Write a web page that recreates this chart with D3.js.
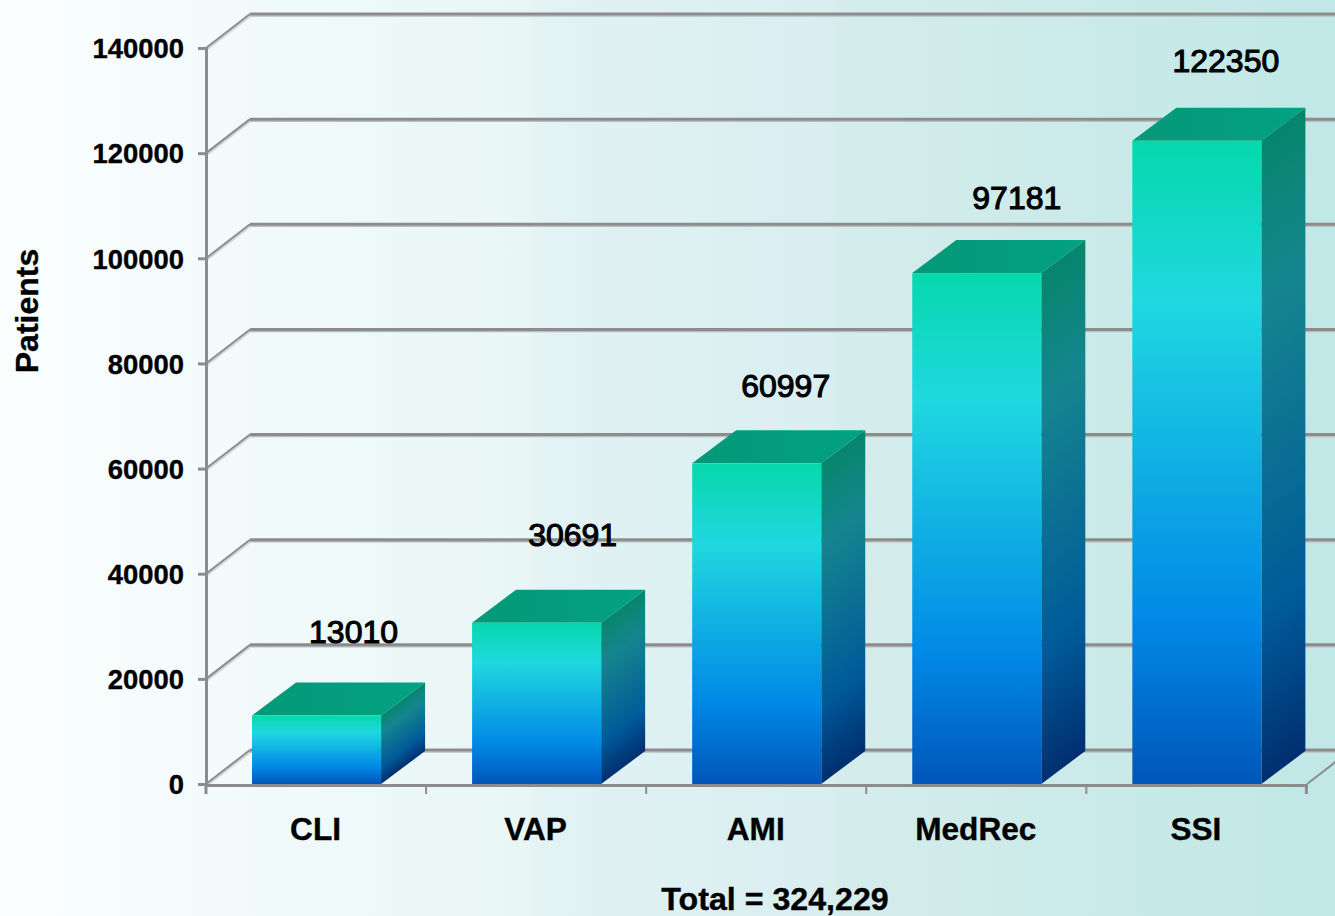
<!DOCTYPE html>
<html><head><meta charset="utf-8">
<script src="https://cdn.jsdelivr.net/npm/d3@7/dist/d3.min.js"></script>
<style>html,body{margin:0;padding:0;background:#fff}svg{display:block}text{font-family:"Liberation Sans",Arial,sans-serif;font-weight:bold;fill:#000;stroke:#000;stroke-width:0.35px}</style>
</head><body><svg id="c" width="1335" height="916"></svg>
<script>
const categories = ["CLI","VAP","AMI","MedRec","SSI"];
const patients = [13010,30691,60997,97181,122350];
const yTicks = [0,20000,40000,60000,80000,100000,120000,140000];
const yTitle = "Patients";
const footer = "Total = 324,229";
const bgStops = [[0,"#fbfefe"],[0.2,"#f1fafb"],[0.395,"#e8f6f5"],[0.4,"#e6f3f2"],[0.41,"#e2f2f5"],[0.62,"#d8eef0"],[0.63,"#d5ecec"],[1,"#c0e8e6"]];
const frontStops = [[0,"#06d8ac"],[0.25,"#20d8e0"],[0.75,"#0088e6"],[1,"#0056b8"]];
const sideStops = [[0,"#06866c"],[0.25,"#15858f"],[0.75,"#005a98"],[1,"#002f70"]];
const topStops = [[0,"#049878"],[1,"#02a282"]];
const labelNudge = [[37,-84],[36,-88],[29,-78],[40,-76],[29,-80]];

const W=1335,H=916,wallX=44,wallY=34,barX=44,barY=33,GRID="#8c8c8c";
const svg=d3.select("#c"),defs=svg.append("defs");
function grad(id,stops,x1,y1,x2,y2,units){
  const g=defs.append("linearGradient").attr("id",id).attr("x1",x1).attr("y1",y1).attr("x2",x2).attr("y2",y2);
  if(units)g.attr("gradientUnits",units);
  stops.forEach(s=>g.append("stop").attr("offset",s[0]).attr("stop-color",s[1]));
}
grad("bg",bgStops,0,0,1,0);
grad("front",frontStops,0,0,0,1);
grad("top",topStops,0,0,1,0);
svg.append("rect").attr("width",W).attr("height",H).attr("fill","url(#bg)");

const x=d3.scaleBand().domain(categories).range([206,1307.4]).paddingInner(0.4136).paddingOuter(0.2091).align(0.5);
const y=d3.scaleLinear().domain([0,140000]).range([784,48]);

const grid=svg.append("g");
yTicks.forEach(t=>{
  const yy=y(t);
  grid.append("line").attr("x1",206).attr("x2",206+wallX).attr("y1",yy).attr("y2",yy-wallY).attr("stroke","#d2d6d6").attr("stroke-width",2).attr("transform","translate(1,1.5)");
  grid.append("line").attr("x1",206).attr("x2",206+wallX).attr("y1",yy).attr("y2",yy-wallY).attr("stroke",GRID).attr("stroke-width",2);
  grid.append("line").attr("x1",250).attr("x2",W).attr("y1",yy-wallY+2).attr("y2",yy-wallY+2).attr("stroke","#b9bfbf").attr("stroke-width",1.5);
  grid.append("line").attr("x1",250).attr("x2",W).attr("y1",yy-wallY).attr("y2",yy-wallY).attr("stroke",GRID).attr("stroke-width",3);
});
grid.append("line").attr("x1",1307).attr("x2",1307+wallX).attr("y1",y(0)).attr("y2",y(0)-wallY).attr("stroke",GRID).attr("stroke-width",2);

const axisY=d3.axisLeft(y).tickValues(yTicks).tickFormat(d3.format("d")).tickSize(8).tickPadding(14);
const gy=svg.append("g").attr("transform","translate(206,0)").call(axisY);
gy.selectAll("path,line").attr("stroke",GRID).attr("stroke-width",3);
gy.selectAll("text").style("font-size","27.4px").attr("font-family",null).attr("y",1);

const rows=categories.map((c,i)=>({c,v:patients[i],i}));
const bw=x.bandwidth();
rows.forEach(d=>{
  const X=x(d.c)+bw,Y=y(d.v),len=(y(0)-Y)*0.8;
  grad("side"+d.i,sideStops,X,Y,X+0.6*len,Y+0.8*len,"userSpaceOnUse");
});
const bars=svg.append("g").selectAll("g").data(rows).join("g");
bars.append("path").attr("fill","url(#top)").attr("d",d=>{const X=x(d.c),Y=y(d.v);return `M${X},${Y}L${X+barX},${Y-barY}H${X+bw+barX}L${X+bw},${Y}Z`;});
bars.append("path").attr("fill",d=>`url(#side${d.i})`).attr("d",d=>{const X=x(d.c)+bw,Y=y(d.v),B=y(0);return `M${X},${Y}L${X+barX},${Y-barY}V${B-barY}L${X},${B}Z`;});
bars.append("rect").attr("fill","url(#front)").attr("x",d=>x(d.c)).attr("y",d=>y(d.v)).attr("width",bw).attr("height",d=>y(0)-y(d.v));

const axisX=d3.axisBottom(x).tickSize(0).tickPadding(33);
const gx=svg.append("g").attr("transform",`translate(0,${y(0)+1})`).call(axisX);
gx.selectAll("path").attr("stroke",GRID).attr("stroke-width",3);
gx.selectAll("text").style("font-size","31.6px").attr("dx",-1);
const step=x.step();
d3.range(categories.length+1).forEach(i=>{
  gx.append("line").attr("x1",206+i*step).attr("x2",206+i*step).attr("y1",0).attr("y2",9).attr("stroke",GRID).attr("stroke-width",i%5==0?3:2);
});

svg.append("g").selectAll("text").data(patients).join("text")
  .attr("x",(d,i)=>x(categories[i])+bw/2+labelNudge[i][0])
  .attr("y",(d,i)=>y(d)+labelNudge[i][1])
  .attr("dy","0.36em").attr("text-anchor","middle").style("font-size","32px").style("font-weight","normal")
  .style("stroke-width","1.1px").text(d=>d);

svg.append("text").attr("transform","translate(38,311) rotate(-90)").attr("text-anchor","middle").style("font-size","32px").text(yTitle);
svg.append("text").attr("x",775).attr("y",910).attr("text-anchor","middle").style("font-size","32.2px").text(footer);
</script></body></html>
